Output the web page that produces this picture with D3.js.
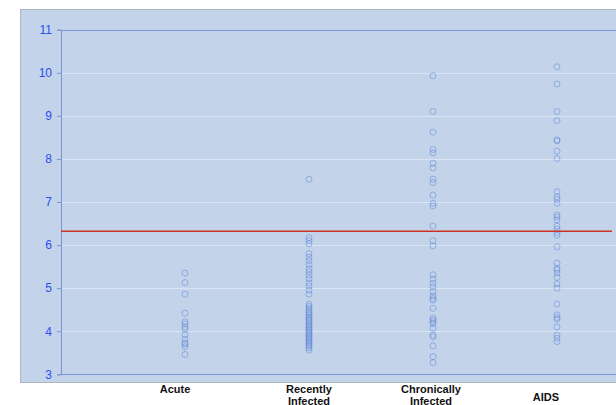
<!DOCTYPE html>
<html>
<head>
<meta charset="utf-8">
<script src="https://cdn.jsdelivr.net/npm/d3@7"></script>
<style>
  body { margin: 0; background: #fff; }
  svg { display: block; font-family: "Liberation Sans", Arial, sans-serif; }
</style>
</head>
<body>
<svg></svg>
<script>
const w = 616, h = 405;

// categories and their axis labels (split in lines)
const categories = ["Acute", "Recently Infected", "Chronically Infected", "AIDS"];
const categoryLines = [["Acute"], ["Recently", "Infected"], ["Chronically", "Infected"], ["AIDS"]];

// values, one list per stage
const acute = [5.35, 5.13, 4.86, 4.42, 4.22, 4.17, 4.1, 4.05, 3.92, 3.81, 3.73, 3.7, 3.64, 3.46];
const recent = [7.53, 6.17, 6.1, 6.03, 5.8, 5.72, 5.64, 5.55, 5.45, 5.38, 5.3, 5.22, 5.12, 5.05, 4.95, 4.86,
  4.63, 4.58, 4.54, 4.49, 4.45, 4.41, 4.38, 4.33, 4.3, 4.26, 4.23, 4.19, 4.15, 4.12, 4.09, 4.05, 4.02,
  3.98, 3.95, 3.92, 3.89, 3.85, 3.82, 3.78, 3.75, 3.72, 3.68, 3.65, 3.61, 3.56];
const chronic = [9.93, 9.1, 8.62, 8.22, 8.14, 7.9, 7.79, 7.53, 7.45, 7.16, 6.97, 6.91, 6.44, 6.1, 5.98,
  5.31, 5.21, 5.11, 5.03, 4.92, 4.82, 4.76, 4.72, 4.53, 4.3, 4.26, 4.22, 4.18, 4.07, 3.91, 3.87, 3.66, 3.41, 3.27];
const aids = [10.14, 9.74, 9.1, 8.89, 8.44, 8.42, 8.18, 8.01, 7.24, 7.12, 7.06, 6.97, 6.7, 6.65, 6.58, 6.44,
  6.37, 6.29, 6.23, 5.96, 5.58, 5.46, 5.42, 5.35, 5.25, 5.1, 5.0, 4.63, 4.38, 4.32, 4.28, 4.1, 3.91, 3.84, 3.76];
const series = [acute, recent, chronic, aids];

const refValue = 6.32; // red horizontal line
const yTicks = [3, 4, 5, 6, 7, 8, 9, 10, 11];

const plotLeft = 61, plotRight = 616, plotTop = 29.7, plotBottom = 374.3;

let svg = d3.select("svg").attr("width", w).attr("height", h);

// outer panel
svg.append("rect")
  .attr("x", 20.5).attr("y", 9.5).attr("width", 620).attr("height", 373)
  .attr("fill", "#c2d3ea").attr("stroke", "#b0b6bf");

let yScale = d3.scaleLinear().domain([3, 11]).range([plotBottom, plotTop]);
let xScale = d3.scaleLinear().domain([0, 4]).range([plotLeft, 557]); // index 0 = empty slot at axis

// grid lines
svg.append("g").selectAll("line")
  .data(yTicks.filter(d => d > 3 && d < 11))
  .enter().append("line")
  .attr("x1", plotLeft).attr("x2", plotRight)
  .attr("y1", d => Math.round(yScale(d)) + 0.5).attr("y2", d => Math.round(yScale(d)) + 0.5)
  .attr("stroke", "#dbe4f3").attr("stroke-width", 1.2);

// y axis
let yAxis = d3.axisLeft(yScale).tickValues(yTicks).tickSize(4).tickPadding(5);
let yg = svg.append("g").attr("transform", "translate(" + plotLeft + ",0)").call(yAxis);
yg.select(".domain").attr("stroke", "#7d93d4");
yg.selectAll(".tick line").attr("stroke", "#7d93d4");
yg.selectAll(".tick text").attr("fill", "#2c4ef0").attr("font-size", 12);

// top and bottom frame lines
[3, 11].forEach(v => {
  svg.append("line")
    .attr("x1", plotLeft).attr("x2", plotRight)
    .attr("y1", Math.round(yScale(v)) + 0.5).attr("y2", Math.round(yScale(v)) + 0.5)
    .attr("stroke", "#7d93d4").attr("stroke-width", 1.2);
});

// points
series.forEach((vals, i) => {
  svg.append("g").selectAll("circle")
    .data(vals)
    .enter().append("circle")
    .attr("cx", xScale(i + 1))
    .attr("cy", d => yScale(d))
    .attr("r", 3)
    .attr("fill", "none")
    .attr("stroke", "#5b84d6")
    .attr("stroke-opacity", 0.5)
    .attr("stroke-width", 1);
});

// reference line
svg.append("line")
  .attr("x1", plotLeft).attr("x2", 612)
  .attr("y1", yScale(refValue)).attr("y2", yScale(refValue))
  .attr("stroke", "#cc3322").attr("stroke-width", 1.4);

// category labels
const labelShift = [-10, 0, -2, -11];
const labelTop = [393, 393, 393, 401];
categoryLines.forEach((lines, i) => {
  let t = svg.append("text")
    .attr("text-anchor", "middle")
    .attr("font-size", 11).attr("font-weight", "bold").attr("fill", "#111");
  lines.forEach((s, j) => {
    t.append("tspan")
      .attr("x", xScale(i + 1) + labelShift[i])
      .attr("y", labelTop[i] + j * 12)
      .text(s);
  });
});
</script>
</body>
</html>
